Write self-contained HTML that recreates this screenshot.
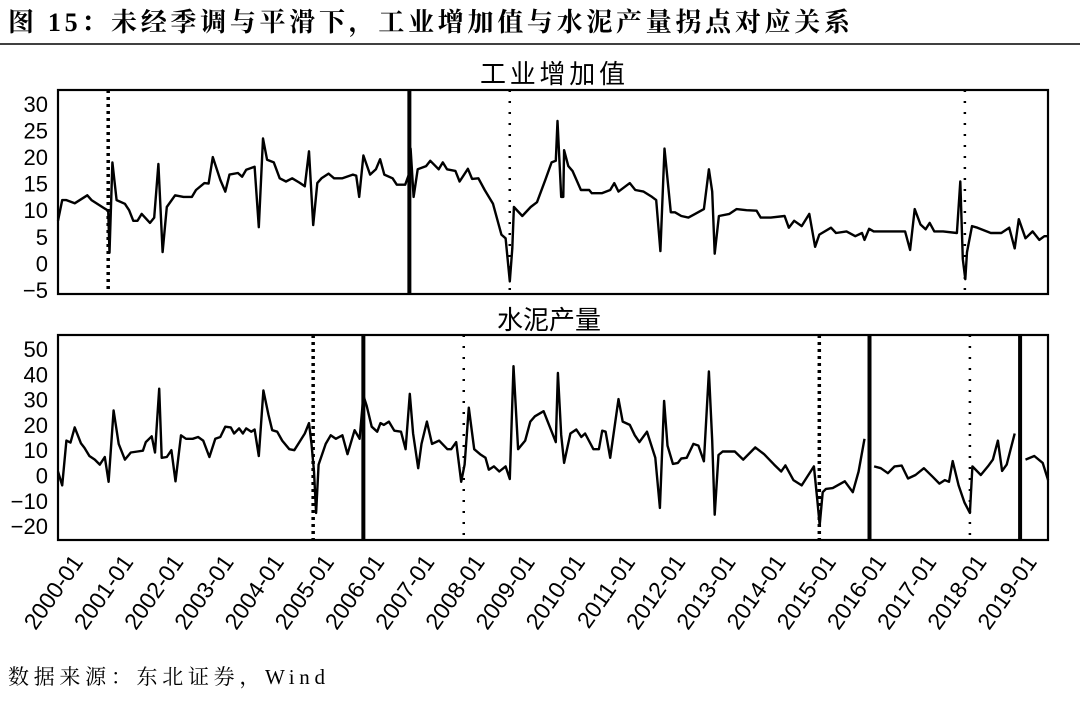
<!DOCTYPE html>
<html><head><meta charset="utf-8"><style>
body{margin:0;background:#fff;width:1080px;height:698px;overflow:hidden;font-family:"Liberation Serif","Noto Serif CJK SC",serif}
</style></head><body>
<svg width="1080" height="698" viewBox="0 0 1080 698" xmlns="http://www.w3.org/2000/svg">
<text x="8" y="31" font-size="26" font-weight="bold" textLength="842" lengthAdjust="spacing" font-family="Liberation Serif, Noto Serif CJK SC, serif">图 15：未经季调与平滑下，工业增加值与水泥产量拐点对应关系</text>
<line x1="0" y1="44" x2="1080" y2="44" stroke="#000" stroke-width="1.5"/>
<text x="480" y="83" font-size="26" textLength="145" lengthAdjust="spacing" font-family="Liberation Sans, Noto Sans CJK SC, sans-serif">工业增加值</text>
<text x="497" y="329" font-size="26" textLength="104" lengthAdjust="spacing" font-family="Liberation Sans, Noto Sans CJK SC, sans-serif">水泥产量</text>
<g id="top"></g>
<g id="bot"></g>
<g id="xl"></g>
<text x="8" y="684" font-size="21" textLength="317" lengthAdjust="spacing" font-family="Liberation Serif, Noto Serif CJK SC, serif">数据来源：东北证券，Wind</text>
</svg>
<script>
const ipMonths=[0,1,2,4,7,8,11,12,12.3,13,14,16,17,18,19,20,22,23,24,25,26,28,30,32,33,35,36,37,38.8,40,41,43,44,45,47,48,49,50,51.6,53,54.5,56,57.7,59,60,61,62,63,64.7,66,68,70.5,71.3,72,73,74.6,76,77,78,80,81,83,84,84.3,85,86,88,89,91,92,93,95,96,98,99,100.5,102,104,106,107,108,108.6,109,111,113,114.5,116.5,118,119,119.4,120.3,120.8,121,122,123,125,127,127.6,130,132,133,134,136.7,138,140,142,143,144,145,146.5,147.5,149,150.7,152.3,154.4,155.6,156.4,157,158,160.5,162.2,164.6,167,168,170.4,173.7,174.7,176,177.8,179.6,181,182,184.8,186,188.5,190.6,192.2,192.8,193.9,195,199.2,202.5,203.7,204.8,206.2,207.4,208.4,209.5,211.6,214.9,215.7,216.3,216.9,217.3,218.5,219.8,223,225.5,227.4,228.7,229.7,231.3,233,234.6,235.8,236.7];
const ipValues=[8,11.9,11.9,11.3,12.8,11.9,10.4,9.9,2,19,11.9,11.2,10,8,8,9.3,7.6,8.6,18.7,2.1,10.6,12.8,12.5,12.5,13.8,15.1,15,20,15.7,13.5,16.7,17,16.3,17.6,18.2,6.8,23.5,19.5,19,16,15.4,16,15.2,14.5,21.1,7.2,15.1,16,16.9,16,16,16.7,16.5,12.5,20.3,16.7,17.7,19.6,16.7,16,14.8,14.8,17,21.6,12.5,17.7,18.3,19.3,17.7,19,17.7,17.4,15.4,17.8,15.9,16,13.8,11.2,5.4,4.7,-3.4,2.8,10.6,8.9,10.6,11.5,15.7,19,19.3,26.8,12.5,12.5,21.3,18.3,17.4,13.8,13.8,13.2,13.2,13.8,15.1,13.5,15.1,13.8,13.5,12.5,11.9,2.3,21.6,9.6,9.6,8.9,8.6,9.3,10.2,17.7,13.5,1.8,8.9,9.3,10.2,10,9.9,8.6,8.6,8.9,6.7,8,7,9.3,3.1,5.4,6.7,5.7,6,5.1,5.7,4.4,6.5,6,6,6,2.5,10.2,7.3,6.4,7.6,6,6,5.7,15.4,0.8,-3,2.1,7,6.7,5.7,5.7,6.7,2.8,8.3,4.7,6,4.4,5.1,5.1];
const cemMonths=[0,1,2,3,4,5.5,6.3,7.5,8.8,10,11.2,12.1,13.3,14.5,16,17.4,19,20.3,21,22.4,23.2,24.2,24.8,26,27.1,28.1,29.4,30.6,32.2,33.5,34.7,36.2,37.6,38.8,40,41.3,42.1,43.3,44.2,45,46.2,47,48,49.1,50.3,51.2,52.4,53.6,55.3,56.5,57.7,59,60,60.6,61.2,61.7,62.3,64,65.2,66.4,68,69.2,70.9,72.1,73,73.8,75,76.3,77.1,77.9,79.1,80.4,82,83.1,84.1,84.9,86.1,86.9,88.2,89.4,91.1,93.1,94,95.2,96.4,97.2,98.2,99.5,100.9,102.2,103,104.2,105.5,107,108,108.9,110,111.7,112.9,114,116.1,119,119.5,120.3,121,122.5,123.9,125.1,126,128,129.3,130.1,130.9,132,134,135,136.7,137.9,139,140.8,142.8,143.9,144.9,145.7,147,148.2,149,150.3,151.9,153.1,154.4,155.6,156.4,157,157.9,158.9,161.8,163.8,166.7,168.8,171.2,172.9,173.9,175.8,177.8,180.7,181.5,182.1,182.8,183.6,185.2,188.1,190,191.4,192.8,193.9,195.1,196.7,198.4,200,201.7,203.2,205,207,209.1,210.7,212,213,213.9,215.3,216.7,218,218.6,220.6,222.3,223.5,224.7,225.7,226.8,228.7,230,231.3,233.4,235.4,236.7];
const cemValues=[1.6,-3.9,13.8,13,19,12.7,11,7.7,6.3,4.3,7.3,-2.5,25.7,12.5,6.3,9.1,9.5,9.8,13.2,15.5,9.1,34.3,7,7.3,10,-2.3,15.9,14.5,14.5,15.2,13.8,7.3,14.5,15.2,19.3,19,16.6,18.6,16.6,18.6,17.3,18.2,7.7,33.6,24.1,17.9,17.3,13.8,10.4,10,13.2,16.6,20.7,12.5,1.6,-14.8,4.3,12.5,15.9,14.5,15.9,8.4,17.9,14.5,31.6,27.5,19.3,17.3,20.7,20,21.3,17.7,17.3,10.4,32.3,16.6,2.9,12.5,21.3,12.5,13.8,10.4,10.4,13.2,-2.5,4.3,26.8,10.4,8.4,7,2.3,3.6,1.6,3.6,-1.4,43.2,10.4,13.8,21.3,23.4,25.4,13.2,40.5,16,5,16.6,18.2,15.2,16.6,10.4,10.4,17.7,17.3,7,30.2,21.3,20,15.9,13.2,17.3,7,-12.8,29.5,11.8,4.6,5,6.7,7,12.5,11.8,5.6,41.1,13.8,-15.5,8.1,9.5,9.5,6.3,11.1,8.4,4.3,1.6,4,-1.8,-3.9,3.6,-9.3,-19.6,-6.6,-5.3,-5,-2.3,-6.6,1.6,14.5,null,3.6,2.9,0.9,3.6,3.9,-1.2,0.2,2.9,-0.5,-3.2,-1.8,-2.5,5.7,-3.9,-10.7,-14.8,3.6,0.2,3.6,6.3,13.8,1.8,4.3,16.6,null,6.3,7.7,5,-1.8];
const ipMarkers=[12,84,108,216.8];
const ipMarkerStyles=['dense','solid','sparse','sparse'];
const cemMarkers=[61,73,97,182,194,218,230];
const cemMarkerStyles=['dense','solid','sparse','dense','solid','sparse','solid'];
const yearLabels=['2000-01','2001-01','2002-01','2003-01','2004-01','2005-01','2006-01','2007-01','2008-01','2009-01','2010-01','2011-01','2012-01','2013-01','2014-01','2015-01','2016-01','2017-01','2018-01','2019-01'];
const ipTicks=[30,25,20,15,10,5,0,-5];
const cemTicks=[50,40,30,20,10,0,-10,-20];

const NS='http://www.w3.org/2000/svg';
const X0=58,X1=1048,PPM=4.183;
function xs(t){return X0+t*PPM;}
function mk(tag,attrs,parent){const e=document.createElementNS(NS,tag);for(const k in attrs)e.setAttribute(k,attrs[k]);parent.appendChild(e);return e;}
function panel(g,top,bot,yTop,vTop,ppu,ticks,months,values,markers,styles,name){
  const ys=v=>yTop+(vTop-v)*ppu;
  ticks.forEach(v=>{const t=mk('text',{x:48,y:ys(v)+8,'font-size':22,'text-anchor':'end','font-family':'Liberation Sans, sans-serif'},g);t.textContent=v<0?'−'+(-v):v;
    
    });
  markers.forEach((m,i)=>{const s=styles[i];const a={x1:xs(m),x2:xs(m),y1:top,y2:bot,stroke:'#000'};
    if(s==='solid'){a['stroke-width']=4;}else if(s==='dense'){a['stroke-width']=3.5;a['stroke-dasharray']='3 4';}else{a['stroke-width']=2.5;a['stroke-dasharray']='2 9';}
    const l=mk('line',a,g);
    
    });
  let d='',pen=false;
  for(let i=0;i<months.length;i++){const v=values[i];if(v===null){pen=false;continue;}
    d+=(pen?'L':'M')+xs(months[i]).toFixed(1)+','+ys(v).toFixed(1);pen=true;}
  const p=mk('path',{d:d,fill:'none',stroke:'#000','stroke-width':2.4,'stroke-linejoin':'round'},g);
  
  
  const r=mk('rect',{x:X0,y:top,width:X1-X0,height:bot-top,fill:'none',stroke:'#000','stroke-width':2.2},g);
  
  
}
panel(document.getElementById('top'),90,294,104,30,5.31,ipTicks,ipMonths,ipValues,ipMarkers,ipMarkerStyles,'industrial');
panel(document.getElementById('bot'),335,540,349,50,2.53,cemTicks,cemMonths,cemValues,cemMarkers,cemMarkerStyles,'cement');
const xl=document.getElementById('xl');
yearLabels.forEach((s,i)=>{const x=xs(i*12)+26,y=562;
  const t=mk('text',{x:x,y:y,'font-size':23,'text-anchor':'end','font-family':'Liberation Sans, sans-serif',transform:'rotate(-55 '+x+' '+y+')'},xl);
  t.textContent=s;
  
  });
</script>
</body></html>
